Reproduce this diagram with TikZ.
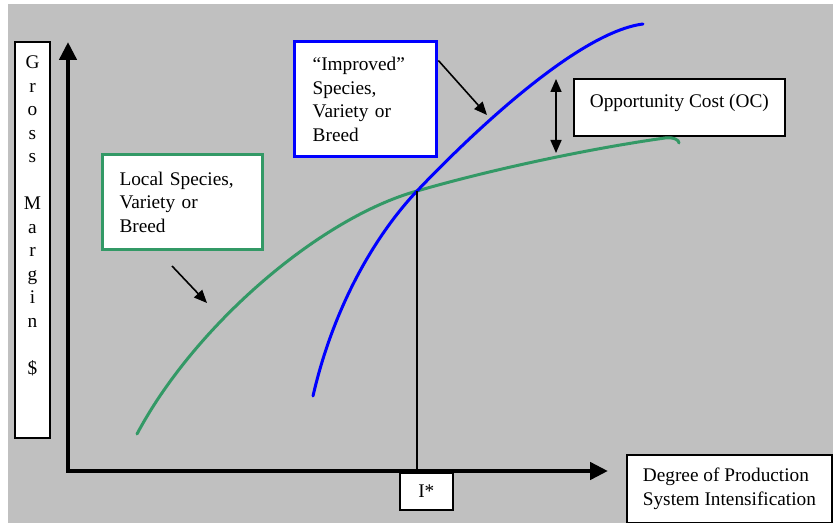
\documentclass[tikz,border=0pt]{standalone}
\usepackage{fontspec}
\setmainfont{Liberation Serif}
\usepackage{tikz}
\usetikzlibrary{arrows.meta, positioning}

\definecolor{bggray}{RGB}{192,192,192}
\definecolor{seagreen}{RGB}{51,153,102}

\begin{document}
\begin{tikzpicture}[x=0.5pt, y=-0.5pt]
\tikzstyle{box} = [rectangle, draw=black, fill=white, line width=0.85pt,
    font=\fontsize{9.65pt}{11.75pt}\selectfont, inner sep=0pt]
\tikzstyle{axis} = [line width=2.2pt, line join=miter,
    {Triangle[length=9pt, width=8.5pt]}-{Triangle[length=9pt, width=8.5pt]}]
\tikzstyle{pointer} = [line width=0.8pt, -{Triangle[length=6.5pt, width=5.5pt]}]
\tikzstyle{curve} = [line width=1.5pt, line cap=round]

 \useasboundingbox (0,0) rectangle (833,523);
 \fill [bggray] (8,4) rectangle (833,523);

 % axes
 \coordinate (origin) at (68,471);
 \coordinate (ytop) at (68,42);
 \coordinate (xend) at (608,471);
 \draw [axis] (ytop) -- (origin) -- (xend);

 % labels
 \node [box, anchor=north, inner ysep=7pt, minimum width=17.5pt] (gm) at (32.5,41)
   {\parbox[t][184pt][t]{12pt}{\centering G\\r\\o\\s\\s\\\mbox{}\\M\\a\\r\\g\\i\\n\\\mbox{}\\\$}};

 \node [box, draw=blue, line width=1.7pt, anchor=north west, text width=53pt,
   align=left, minimum width=71pt, minimum height=57.5pt, inner xsep=9pt] (improved) at (293,40)
   {“Improved”\\Species,\\Variety or\\Breed};

 \node [box, draw=seagreen, line width=1.5pt, anchor=north west, text width=63pt,
   align=left, minimum width=80pt, minimum height=47.5pt, inner xsep=8.5pt] (local) at (101,153)
   {Local Species,\\Variety or\\Breed};

 \node [box, anchor=north west, minimum width=105.5pt, text height=14.5pt,
   text depth=14pt] (oc) at (573,78) {Opportunity Cost (OC)};

 \node [box, anchor=north west, align=left, minimum width=102pt, minimum height=34pt,
   inner xsep=8pt] (degree) at (626,454)
   {Degree of Production\\System Intensification};

 % curves
 \coordinate (cross) at (417,191);
 \draw [curve, seagreen] (137,434) .. controls (195,325) and (320,218) .. (cross)
   .. controls (500,167) and (600,147) .. (665,138)
   .. controls (674,137) and (679,140) .. (679,143);
 \draw [curve, blue] (313,396) .. controls (335,300) and (380,230) .. (cross)
   .. controls (477,128) and (580,32) .. (643,24);

 % intensity marker
 \node [box, anchor=north west, minimum width=26.5pt, minimum height=18.5pt] (istar) at (399,472) {I*};
 \draw [line width=0.6pt] (cross) -- (istar.north -| cross);

 % pointers
 \coordinate (improvedtip) at (487,115);
 \coordinate (localtail) at (172,266);
 \coordinate (localtip) at (207,303);
 \coordinate (octop) at (556,79);
 \coordinate (ocbottom) at (556,153);
 \path [pointer, draw] (improved.28) -- (improvedtip);
 \path [pointer, draw] (localtail) -- (localtip);
 \path [pointer, draw, {Triangle[length=6.5pt, width=5.5pt]}-{Triangle[length=6.5pt, width=5.5pt]}] (octop) -- (ocbottom);
\end{tikzpicture}
\end{document}
